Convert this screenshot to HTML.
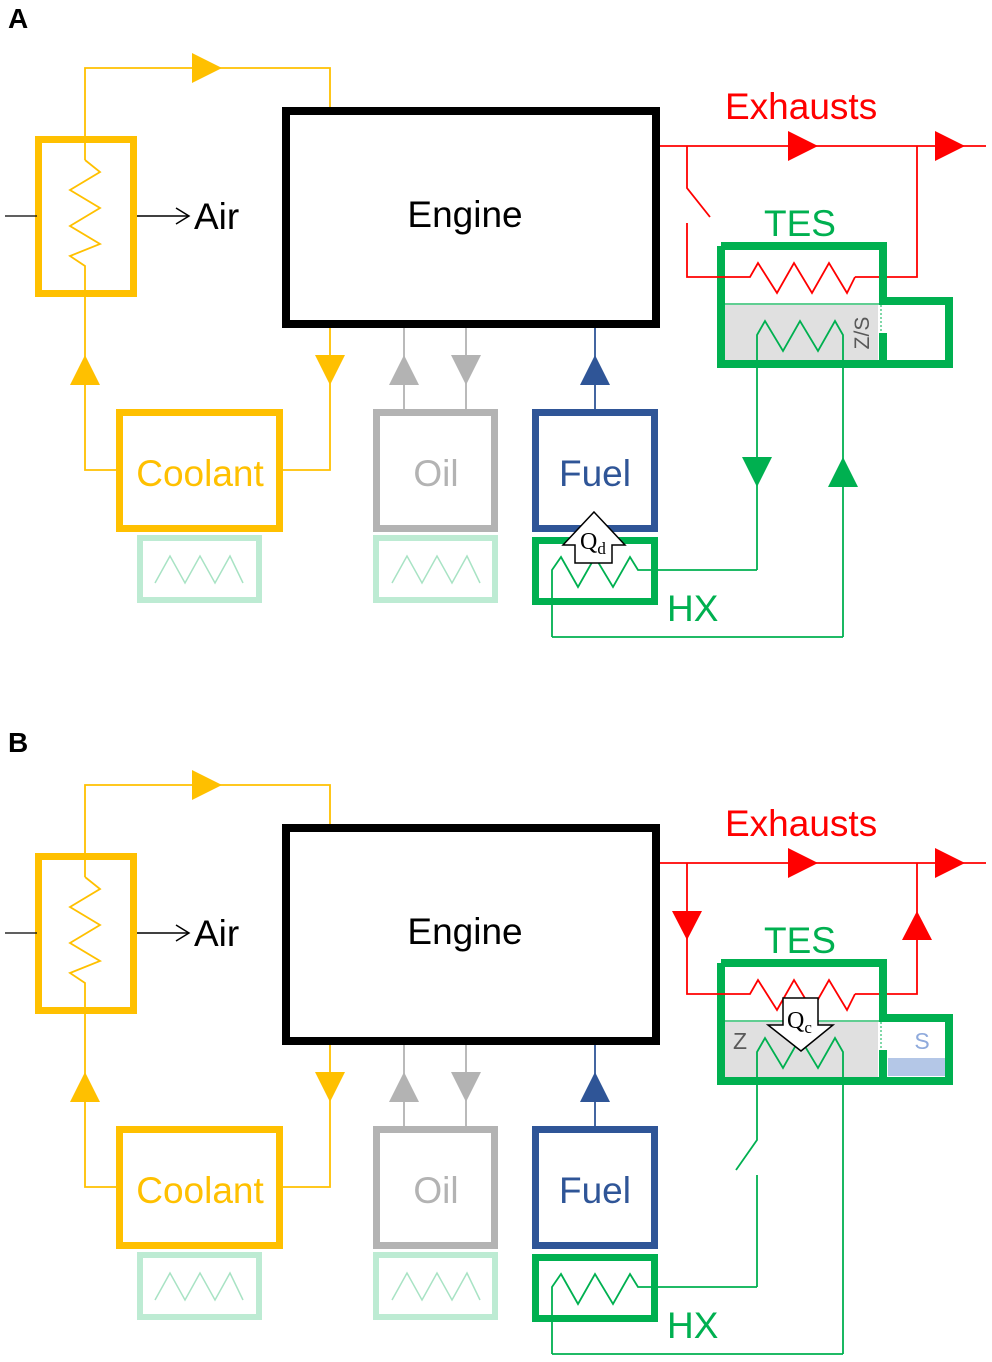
<!DOCTYPE html>
<html><head><meta charset="utf-8"><style>
html,body{margin:0;padding:0;background:#fff;}
svg{display:block;}
text{font-family:"Liberation Sans",Arial,sans-serif;}
</style></head><body>
<svg width="992" height="1362" viewBox="0 0 992 1362" xmlns="http://www.w3.org/2000/svg">
<defs>
<g id="common">
  <g stroke="#FFC000" stroke-width="1.8" fill="none">
    <polyline points="85,160 85,68 330,68 330,108"/>
    <polyline points="85,160 100,172 70,190 100,208 70,226 100,244 70,256 85,266 85,470 118,470"/>
    <polyline points="281,470 330,470 330,328"/>
  </g>
  <polygon points="192,53 222,68 192,83" fill="#FFC000"/>
  <polygon points="85,355 100,385 70,385" fill="#FFC000"/>
  <polygon points="315,355 345,355 330,385" fill="#FFC000"/>
  <rect x="38.5" y="139.5" width="95" height="154" fill="none" stroke="#FFC000" stroke-width="7"/>
  <line x1="5" y1="216" x2="37" y2="216" stroke="#000" stroke-width="1.2"/>
  <line x1="137" y1="216" x2="189" y2="216" stroke="#000" stroke-width="1.5"/>
  <polyline points="176,208 189,216 176,224" fill="none" stroke="#000" stroke-width="1.5"/>
  <text x="194" y="229" font-size="37" fill="#000">Air</text>
  <rect x="286" y="111" width="370" height="213" fill="none" stroke="#000" stroke-width="8"/>
  <text x="465" y="227" font-size="37" text-anchor="middle" fill="#000">Engine</text>
  <rect x="119.5" y="412.5" width="160" height="116" fill="#fff" stroke="#FFC000" stroke-width="7"/>
  <text x="200" y="486" font-size="37" text-anchor="middle" fill="#FFC000">Coolant</text>
  <rect x="140" y="538" width="119" height="62" fill="none" stroke="#BDEBD3" stroke-width="6"/>
  <polyline points="155,583 170,556 185,583 200,556 215,583 230,556 243,583" fill="none" stroke="#A8E3C4" stroke-width="1.5"/>
  <g stroke="#B3B3B3" stroke-width="1.8"><line x1="404" y1="328" x2="404" y2="410"/><line x1="466" y1="328" x2="466" y2="410"/></g>
  <polygon points="404,355 419,385 389,385" fill="#B3B3B3"/>
  <polygon points="451,355 481,355 466,385" fill="#B3B3B3"/>
  <rect x="376.5" y="412.5" width="118" height="116" fill="#fff" stroke="#B3B3B3" stroke-width="7"/>
  <text x="436" y="486" font-size="37" text-anchor="middle" fill="#B3B3B3">Oil</text>
  <rect x="376" y="538" width="119" height="62" fill="none" stroke="#BDEBD3" stroke-width="6"/>
  <polyline points="392,583 407,556 422,583 437,556 452,583 467,556 480,583" fill="none" stroke="#A8E3C4" stroke-width="1.5"/>
  <line x1="595" y1="328" x2="595" y2="410" stroke="#2F5597" stroke-width="1.8"/>
  <polygon points="595,355 610,385 580,385" fill="#2F5597"/>
  <rect x="535.5" y="412.5" width="119" height="116" fill="#fff" stroke="#2F5597" stroke-width="7"/>
  <text x="595" y="486" font-size="37" text-anchor="middle" fill="#2F5597">Fuel</text>
  <rect x="535.5" y="540.5" width="119" height="61" fill="#fff" stroke="#00B050" stroke-width="7"/>
  <text x="667" y="621" font-size="37" fill="#00B050">HX</text>
  <line x1="660" y1="146" x2="986" y2="146" stroke="#FF0000" stroke-width="1.8"/>
  <polygon points="788,131 818,146 788,161" fill="#FF0000"/>
  <polygon points="935,131 965,146 935,161" fill="#FF0000"/>
  <text x="725" y="119" font-size="37" fill="#FF0000">Exhausts</text>
  <polyline points="855,277 917,277 917,146" fill="none" stroke="#FF0000" stroke-width="1.8"/>
  <text x="800" y="236" font-size="37" text-anchor="middle" fill="#00B050">TES</text>
  <rect x="725" y="305" width="153" height="55" fill="#E0E0E0"/>
  <line x1="725" y1="304" x2="880" y2="304" stroke="#00B050" stroke-width="1.2"/>
  <polyline points="725,277 750,277 758,263 777,293 794,263 812,293 829,263 847,293 855,277" fill="none" stroke="#FF0000" stroke-width="1.8"/>
  <polyline points="757,366 757,335 765,321 783,351 800,321 818,351 835,321 843,335 843,366" fill="none" stroke="#00B050" stroke-width="1.8"/>
  <polyline points="721,246 883,246 883,301 949,301 949,364 721,364 721,246" fill="none" stroke="#00B050" stroke-width="8"/>
  <line x1="883" y1="333" x2="883" y2="364" stroke="#00B050" stroke-width="8"/>
  <line x1="881" y1="305" x2="881" y2="333" stroke="#00B050" stroke-width="1" stroke-dasharray="2,2"/>
  <polyline points="552,637 552,570 561,557 578,587 595,557 613,587 630,557 638,570 757,570" fill="none" stroke="#00B050" stroke-width="1.8"/>
  <polyline points="552,637 843,637" fill="none" stroke="#00B050" stroke-width="1.8"/>
</g>
</defs>

<text x="8" y="28" font-size="28" font-weight="bold" fill="#000">A</text>
<use href="#common"/>
<g fill="none" stroke-width="1.8">
  <polyline points="687,146 687,188 710,217" stroke="#FF0000"/>
  <polyline points="687,223 687,277 725,277" stroke="#FF0000"/>
  <polyline points="757,366 757,570" stroke="#00B050"/>
  <polyline points="843,366 843,637" stroke="#00B050"/>
</g>
<polygon points="742,457 772,457 757,487" fill="#00B050"/>
<polygon points="843,457 858,487 828,487" fill="#00B050"/>
<text x="862" y="333" font-size="21" fill="#595959" text-anchor="middle" transform="rotate(-90 862 333)" dy="7">Z/S</text>
<polygon points="594,512 625,545 612,545 612,563 575,563 575,545 563,545" fill="#fff" stroke="#000" stroke-width="1.5"/>
<text x="580" y="549" style="font-family:'Liberation Serif',serif" font-size="24" fill="#000">Q<tspan font-size="17" dy="5">d</tspan></text>

<text x="8" y="752" font-size="28" font-weight="bold" fill="#000">B</text>
<g transform="translate(0,717)">
  <use href="#common"/>
  <g fill="none" stroke-width="1.8">
    <polyline points="687,146 687,277 725,277" stroke="#FF0000"/>
    <polyline points="757,366 757,423 736,453" stroke="#00B050"/>
    <polyline points="757,458 757,570" stroke="#00B050"/>
    <polyline points="843,366 843,637" stroke="#00B050"/>
  </g>
  <polygon points="672,194 702,194 687,223" fill="#FF0000"/>
  <polygon points="917,194 932,223 902,223" fill="#FF0000"/>
  <rect x="888" y="341" width="57" height="18" fill="#B4C7E7"/>
  <text x="740" y="332" font-size="23" fill="#595959" text-anchor="middle">Z</text>
  <text x="922" y="332" font-size="23" fill="#8FAADC" text-anchor="middle">S</text>
  <polygon points="783,281 818,281 818,308 833,308 801,334 768,308 783,308" fill="#fff" stroke="#000" stroke-width="1.5"/>
  <text x="787" y="311" style="font-family:'Liberation Serif',serif" font-size="24" fill="#000">Q<tspan font-size="17" dy="5">c</tspan></text>
</g>
</svg>
</body></html>
